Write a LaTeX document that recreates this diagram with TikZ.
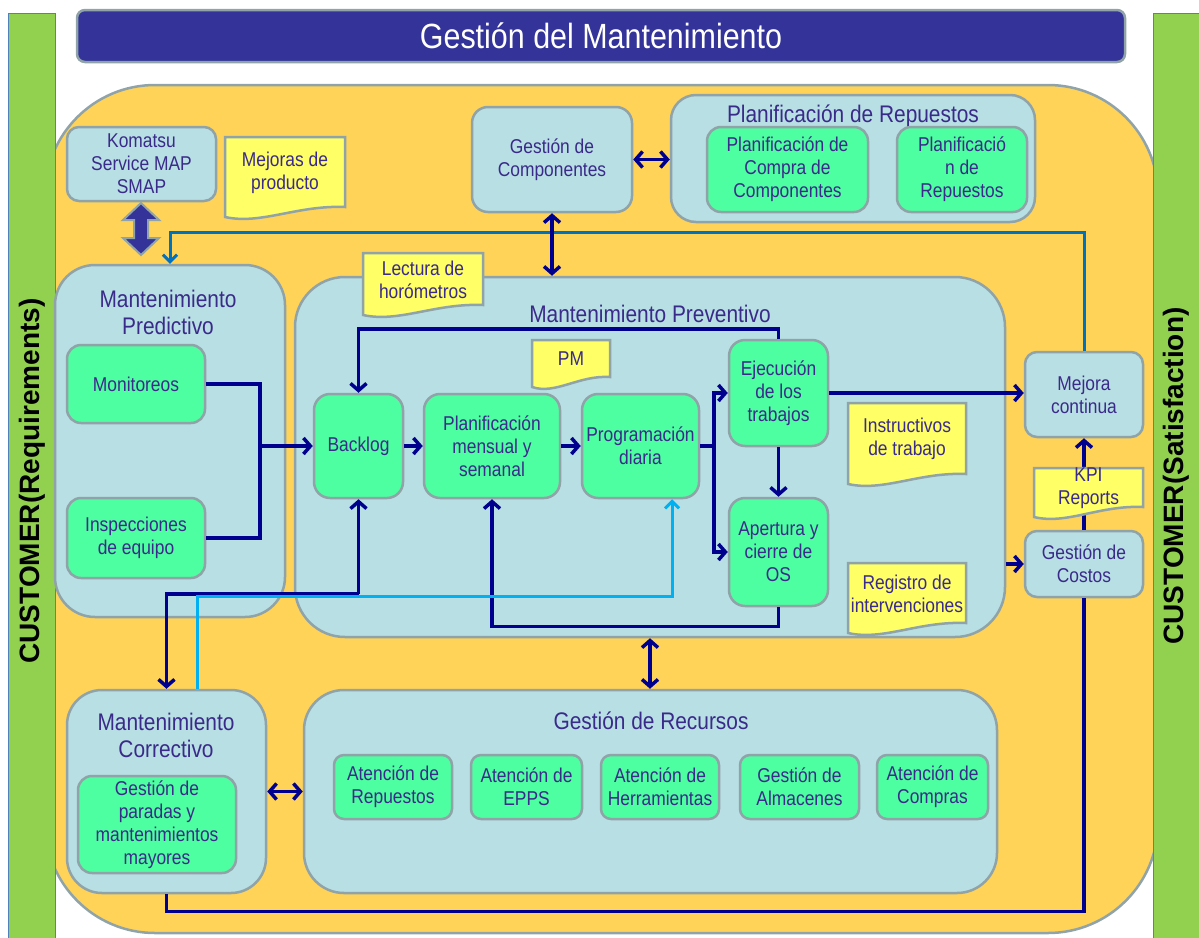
\documentclass[tikz,border=0pt]{standalone}
\usepackage{fontspec}
\setmainfont{Liberation Sans}
\newfontfamily\narrowf{Liberation Sans}[FakeStretch=0.87]
\usetikzlibrary{arrows.meta}
\definecolor{custgreen}{HTML}{92D050}
\definecolor{barline}{HTML}{4F81BD}
\definecolor{titlebg}{HTML}{333399}
\definecolor{gborder}{HTML}{8FA3A8}
\definecolor{yellowbg}{HTML}{FFD357}
\definecolor{lblue}{HTML}{B8DFE3}
\definecolor{lgreen}{HTML}{4DFFA0}
\definecolor{noteyel}{HTML}{FFFF66}
\definecolor{txt}{HTML}{3A2A8A}
\definecolor{navy}{HTML}{00008F}
\definecolor{midblue}{HTML}{0070C0}
\definecolor{skyblue}{HTML}{00B0F0}
\newcommand\bodyf{\narrowf\fontsize{20}{23}\selectfont}
\newcommand\ctitlef{\narrowf\fontsize{24}{27}\selectfont}
\newcommand\headf{\narrowf\fontsize{35}{40}\selectfont}
\newcommand\custf{\bfseries\fontsize{28}{30}\selectfont}
\tikzset{
  box/.style={draw=gborder, line width=2.5pt, inner sep=0pt, align=center, text=txt, font=\bodyf},
  lbox/.style={box, fill=lblue, rounded corners=12pt},
  gbox/.style={box, fill=lgreen, rounded corners=14pt},
  cont/.style={box, fill=lblue, rounded corners=40pt},
  ctitle/.style={text=txt, font=\ctitlef, align=center, inner sep=0pt},
  notebg/.style={draw=gborder, line width=2.5pt, fill=noteyel},
  notetext/.style={text=txt, font=\bodyf, align=center, inner sep=0pt},
  navyline/.style={draw=navy, line width=3.5pt},
  arr/.style={navyline, -{Straight Barb[length=7pt,width=16pt]}},
  darr/.style={navyline, {Straight Barb[length=7pt,width=16pt]}-{Straight Barb[length=7pt,width=16pt]}},
  barr/.style={draw=midblue, line width=3pt, -{Straight Barb[length=7pt,width=14pt]}},
  sarr/.style={draw=skyblue, line width=3pt, -{Straight Barb[length=7pt,width=14pt]}},
}
% style, name, x1, y1, x2, y2, text
\newcommand\bx[7]{%
  \pgfmathsetmacro\bxw{#5-#3}%
  \pgfmathsetmacro\bxh{#6-#4}%
  \node[#1, minimum width=\bxw pt, minimum height=\bxh pt] (#2) at ({(#3+#5)/2},{(#4+#6)/2}) {#7};}
% name, x1, y1, x2, y2, text
\newcommand\docnote[6]{%
  \pgfmathsetmacro\wavA{#2+0.3*(#4-#2)}%
  \pgfmathsetmacro\wavB{#2+0.6*(#4-#2)}%
  \draw[notebg] (#2,#3) -- (#4,#3) -- (#4,{#5-13}) .. controls (\wavB,{#5-15}) and (\wavA,{#5+5}) .. (#2,{#5-3}) -- cycle;
  \node[notetext] (#1) at ({(#2+#4)/2},{(#3+#5)/2-6}) {#6};}
\begin{document}
\begin{tikzpicture}[x=1pt,y=-1pt]
\useasboundingbox (0,0) rectangle (1199,937);
% big yellow area
\filldraw[fill=yellowbg, draw=gborder, line width=2.5pt, rounded corners=110pt] (45,85) rectangle (1158,933);
% customer bars
\filldraw[fill=custgreen, draw=barline, line width=0.8pt] (8,13) rectangle (55,940);
\filldraw[fill=custgreen, draw=barline, line width=0.8pt] (1153,13) rectangle (1202,940);
\node[rotate=90, font=\custf, inner sep=0pt] (custL) at (32,481) {CUSTOMER(Requirements)};
\node[rotate=90, font=\custf, inner sep=0pt] (custR) at (1176,476) {CUSTOMER(Satisfaction)};
% title
\bx{draw=gborder, line width=2.5pt, fill=titlebg, rounded corners=8pt, inner sep=0pt, text=white, font=\headf}{title}{77}{10}{1125}{62}{Gestión del Mantenimiento}
% containers
\bx{cont, rounded corners=25pt}{prep}{671}{95}{1035}{222}{}
\node[ctitle] (prepT) at (853,116) {Planificación de Repuestos};
\bx{cont}{pred}{55}{265}{285}{617}{}
\node[ctitle] (predT) at (168,312) {Mantenimiento\\Predictivo};
\bx{cont, rounded corners=50pt}{prev}{295}{277}{1005}{637}{}
\node[ctitle] (prevT) at (650,314) {Mantenimiento Preventivo};
\bx{cont, rounded corners=35pt}{corr}{67}{690}{266}{893}{}
\node[ctitle] (corrT) at (166,735) {Mantenimiento\\Correctivo};
\bx{cont}{recu}{304}{690}{997}{893}{}
\node[ctitle] (recT) at (651,721) {Gestión de Recursos};
% light blue boxes
\bx{lbox}{kom}{67}{127}{216}{201}{Komatsu\\Service MAP\\SMAP}
\bx{lbox, rounded corners=16pt}{gcomp}{472}{107}{632}{212}{Gestión de\\Componentes}
\bx{lbox}{mejc}{1025}{352}{1143}{437}{Mejora\\continua}
\bx{lbox}{costos}{1025}{531}{1143}{597}{Gestión de\\Costos}
% green boxes
\bx{gbox}{pcc}{707}{127}{868}{212}{Planificación de\\Compra de\\Componentes}
\bx{gbox}{pr}{897}{127}{1027}{212}{Planificació\\n de\\Repuestos}
\bx{gbox}{mon}{67}{345}{205}{423}{Monitoreos}
\bx{gbox}{insp}{67}{498}{205}{578}{Inspecciones\\de equipo}
\bx{gbox, rounded corners=16pt}{back}{314}{394}{403}{498}{Backlog}
\bx{gbox, rounded corners=16pt}{plan}{424}{394}{560}{498}{Planificación\\mensual y\\semanal}
\bx{gbox, rounded corners=16pt}{prog}{582}{394}{699}{498}{Programación\\diaria}
\bx{gbox, rounded corners=16pt}{ejec}{729}{340}{828}{446}{Ejecución\\de los\\trabajos}
\bx{gbox, rounded corners=16pt}{aper}{729}{498}{828}{606}{Apertura y\\cierre de\\OS}
\bx{gbox}{gpar}{78}{776}{236}{873}{Gestión de\\paradas y\\mantenimientos\\mayores}
\bx{gbox, rounded corners=10pt}{r1}{334}{755}{452}{819}{Atención de\\Repuestos}
\bx{gbox, rounded corners=10pt}{r2}{471}{755}{582}{819}{Atención de\\EPPS}
\bx{gbox, rounded corners=10pt}{r3}{601}{755}{719}{819}{Atención de\\Herramientas}
\bx{gbox, rounded corners=10pt}{r4}{740}{755}{859}{819}{Gestión de\\Almacenes}
\bx{gbox, rounded corners=10pt}{r5}{877}{755}{988}{819}{Atención de\\Compras}
% blue feedback line
\coordinate (ytop) at (0,232);
\draw[barr] (mejc.north) -- (mejc.north |- ytop) -| (pred.north);
% predictive to backlog
\coordinate (j1) at (260,446);
\draw[navyline] (mon.east) -| (j1) |- (insp.east);
\draw[arr] (j1) -- (back.west);
% preventive flow
\draw[arr] (back) -- (plan);
\draw[arr] (plan) -- (prog);
\coordinate (j2) at (714,446);
\draw[navyline] (prog.east) -- (j2);
\draw[arr] (j2) |- (ejec.west);
\draw[arr] (j2) |- (aper.west);
\draw[arr] (ejec.south) -- (aper.north);
\draw[arr] (ejec.north) -- ++(0,-10) -| (back.north);
\draw[arr] (aper.south) -- ++(0,19) -| (plan.south);
\draw[arr] (ejec.east) -- (mejc.west |- ejec.east);
\draw[arr] (prev.east |- costos.west) -- (costos.west);
\draw[arr] (costos.north) -- (mejc.south);
\draw[navyline] (corr.south) -- ++(0,17) -| (costos.south);
% corrective links
\coordinate (j3) at (358.5,594);
\draw[arr] (j3) -- (j3 |- back.south);
\draw[arr] (j3) -| (corr.north);
\coordinate (lb) at (672,596);
\draw[sarr] ([xshift=30.5pt]corr.north) |- (lb) -- (lb |- prog.south);
% double arrows
\draw[darr] (gcomp.south) -- (gcomp.south |- prev.north);
\draw[darr] (gcomp.east) -- (prep.west |- gcomp.east);
\draw[darr] (prev.south) -- (prev.south |- recu.north);
\draw[darr] (corr.east) -- (recu.west |- corr.east);
% notes
\docnote{mej}{225}{137}{345}{220}{Mejoras de\\producto}
\docnote{lect}{363}{253}{483}{318}{Lectura de\\horómetros}
\docnote{pm}{532}{340}{610}{390}{PM}
\docnote{instr}{848}{403}{966}{487}{Instructivos\\de trabajo}
\docnote{reg}{848}{563}{966}{636}{Registro de\\intervenciones}
\docnote{kpi}{1034}{468}{1143}{520}{KPI\\Reports}
% block double arrow Komatsu <-> Predictivo
\filldraw[fill=titlebg, draw=gborder, line width=2pt, line join=miter] (141,203) -- (159,220) -- (148,220) -- (148,238) -- (159,238) -- (141,255) -- (123,238) -- (134,238) -- (134,220) -- (123,220) -- cycle;
\end{tikzpicture}
\end{document}
